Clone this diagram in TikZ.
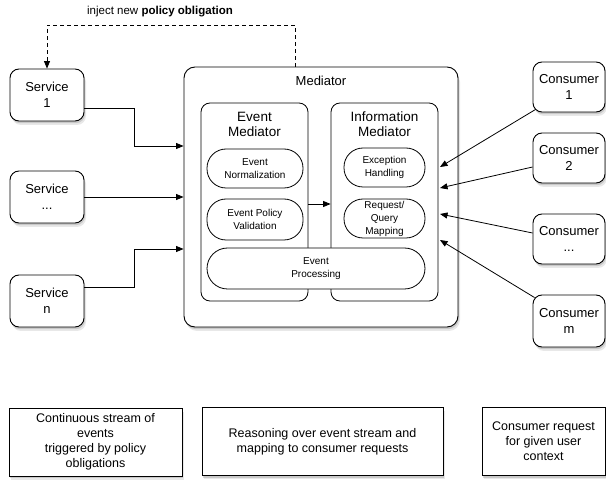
\documentclass[tikz,border=0pt]{standalone}
\usepackage{fontspec}
\setmainfont{Liberation Sans}
\usetikzlibrary{shadows,arrows.meta,calc}
\begin{document}
\begin{tikzpicture}[x=1pt,y=-1pt,
  shd/.style={drop shadow={opacity=0.18,shadow xshift=2pt,shadow yshift=-4pt},
              drop shadow={opacity=0.3,shadow xshift=1pt,shadow yshift=-2.2pt}},
  svc/.style={draw,line width=0.9pt,rounded corners=9pt,fill=white,shd,minimum width=74pt,minimum height=52pt,inner sep=0pt,align=center,font=\fontsize{13}{16}\selectfont},
  cons/.style={svc,minimum width=72pt,minimum height=50pt},
  medbox/.style={draw,line width=0.9pt,rounded corners=11pt,fill=white,shd,minimum width=274pt,minimum height=260pt,inner sep=0pt},
  subbox/.style={draw,line width=0.8pt,rounded corners=9pt,fill=white,minimum width=107pt,minimum height=198pt,inner sep=0pt},
  pill/.style={draw,line width=0.8pt,rounded corners=19pt,fill=white,inner sep=0pt,align=center,font=\fontsize{10}{13}\selectfont},
  note/.style={draw,line width=0.9pt,fill=white,shd,minimum height=68pt,inner sep=0pt,align=center,font=\fontsize{12.5}{15}\selectfont},
  ttl/.style={align=center,inner sep=0pt,font=\fontsize{13.5}{15}\selectfont},
  arr/.style={line width=0.8pt,-{Triangle[length=7.5pt,width=6pt]}}
]
\useasboundingbox (0,0) rectangle (606,481);

% services
\node[svc] (s1) at (47,95) {Service\\1};
\node[svc] (s2) at (47,197) {Service\\...};
\node[svc] (s3) at (47,301) {Service\\n};

% mediator
\node[medbox] (med) at (321,197) {};
\node[ttl,font=\fontsize{13}{15}\selectfont] (medt) at (321,81) {Mediator};
\node[subbox] (em) at (254.5,202) {};
\node[subbox] (im) at (384.5,202) {};
\node[ttl] (emt) at (254.5,124.5) {Event\\Mediator};
\node[ttl] (imt) at (384.5,124.5) {Information\\Mediator};

\draw[arr] ([yshift=-2pt]em.east) -- ([yshift=-2pt]im.west);

\node[pill,minimum width=96pt,minimum height=39pt] (en) at (255,168.5) {Event\\Normalization};
\node[pill,minimum width=96pt,minimum height=41pt] (ev) at (255,219.5) {Event Policy\\Validation};
\node[pill,minimum width=81pt,minimum height=39pt] (eh) at (384.5,167.5) {Exception\\Handling};
\node[pill,minimum width=81pt,minimum height=39pt] (rq) at (384.5,218.5) {Request/\\Query\\Mapping};
\node[pill,rounded corners=20.5pt,minimum width=218pt,minimum height=41pt] (ep) at (316,268.5) {Event\\Processing};

% consumers
\node[cons] (c1) at (569,87) {Consumer\\1};
\node[cons] (c2) at (569,158) {Consumer\\2};
\node[cons] (c3) at (569,239) {Consumer\\...};
\node[cons,minimum height=52pt] (c4) at (569,321) {Consumer\\m};

% service arrows
\draw[arr] ([yshift=-13pt]s1.east) -- ++(50,0) |- ([yshift=51pt]med.west);
\draw[arr] (s2.east) -- (s2.east -| med.west);
\draw[arr] ([yshift=14pt]s3.east) -- ++(50,0) |- ([yshift=-52pt]med.west);

% dashed feedback
\coordinate (dtop) at (295,25);
\draw[arr,dashed,dash pattern=on 4pt off 3pt] (med.north -| dtop) -- (dtop) -| (s1.north);
\node[inner sep=0pt,font=\fontsize{11.5}{14}\selectfont] (inj) at (160,12) {inject new \textbf{policy obligation}};

% consumer arrows
\coordinate (t1) at (440,167);
\coordinate (t2) at (440,188);
\coordinate (t3) at (440,214);
\coordinate (t4) at (440,240);
\draw[arr] ([xshift=3pt,yshift=3pt]c1.south west) -- (t1);
\draw[arr] ([yshift=-9pt]c2.west) -- (t2);
\draw[arr] ([yshift=6pt]c3.west) -- (t3);
\draw[arr] ([xshift=2pt,yshift=-3pt]c4.north west) -- (t4);

% bottom notes
\node[note,minimum width=173pt] (n1) at (95.5,442) {Continuous stream of\\events\\triggered by policy\\obligations};
\node[note,minimum width=241pt] (n2) at (322.5,441.5) {Reasoning over event stream and\\mapping to consumer requests};
\node[note,minimum width=123pt] (n3) at (543.5,441.5) {Consumer request\\for given user\\context};
\end{tikzpicture}
\end{document}
